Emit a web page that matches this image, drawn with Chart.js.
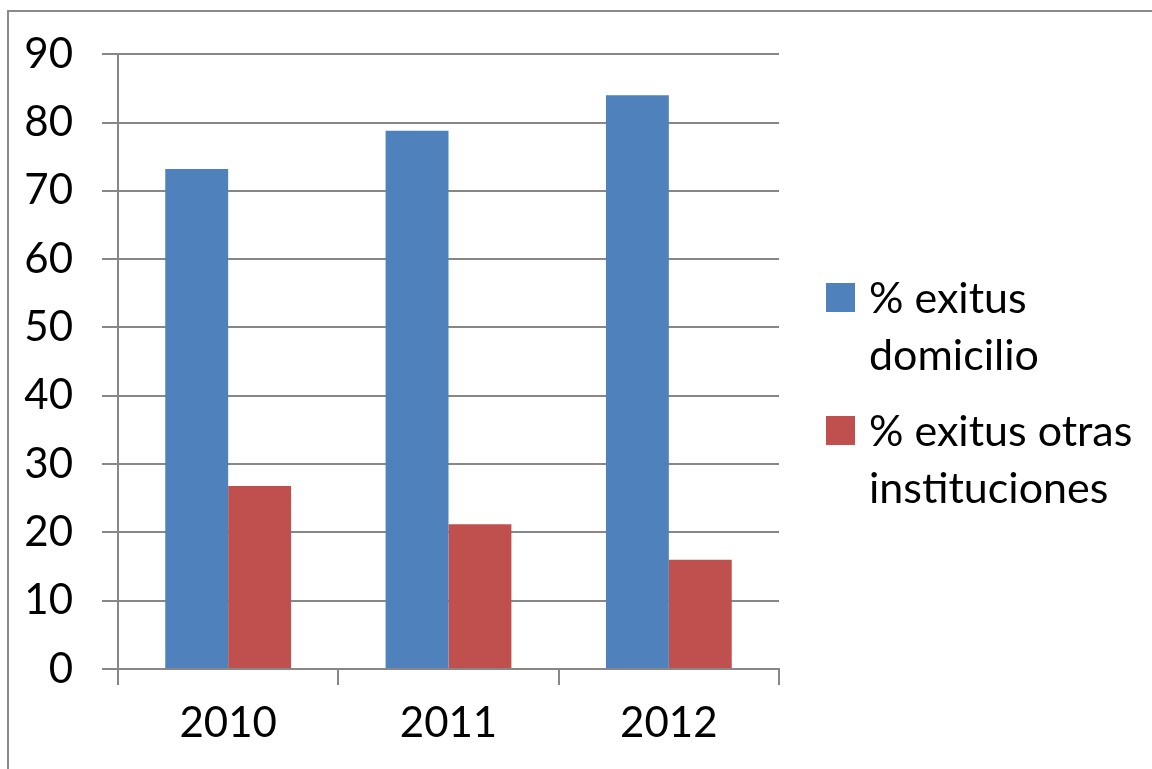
<!DOCTYPE html>
<html>
<head>
<meta charset="utf-8">
<script src="https://cdn.jsdelivr.net/npm/chart.js@4/dist/chart.umd.min.js"></script>
<style>
  html, body { margin: 0; padding: 0; background: #fff; }
  #wrap { width: 1152px; height: 769px; position: relative; }
</style>
</head>
<body>
<div id="wrap"><canvas id="chart" width="1152" height="769"></canvas></div>
<script>
const years = ["2010", "2011", "2012"];
const domicilio = [73.2, 78.8, 84.0];
const otrasInstituciones = [26.8, 21.2, 16.0];
const legendLines = [["% exitus", "domicilio"], ["% exitus otras", "instituciones"]];
const yTicks = [0, 10, 20, 30, 40, 50, 60, 70, 80, 90];

const FONT = "Lato, 'Open Sans', sans-serif";
const GRID = "#878787";

// gray frame along the top and left edge
const framePlugin = {
  id: "frame",
  beforeDraw(chart) {
    const c = chart.ctx;
    c.save();
    c.strokeStyle = "#8a8a8a";
    c.lineWidth = 2;
    c.beginPath();
    c.moveTo(8, chart.height);
    c.lineTo(8, 11);
    c.lineTo(chart.width, 11);
    c.stroke();
    c.restore();
  }
};

// legend on the right, labels wrapped on two lines
const sideLegend = {
  id: "sideLegend",
  afterDraw(chart) {
    const c = chart.ctx;
    c.save();
    c.font = "43px " + FONT;
    c.textBaseline = "alphabetic";
    const tops = [283, 416];
    chart.data.datasets.forEach((ds, i) => {
      const top = tops[i];
      c.fillStyle = ds.backgroundColor;
      c.fillRect(826, top, 29, 29);
      c.fillStyle = "#000";
      legendLines[i].forEach((line, j) => {
        c.fillText(line, 869, top + 30 + j * 57);
      });
    });
    c.restore();
  }
};

new Chart(document.getElementById("chart").getContext("2d"), {
  type: "bar",
  data: {
    labels: years,
    datasets: [
      {
        label: legendLines[0].join(" "),
        data: domicilio,
        backgroundColor: "#4F81BD"
      },
      {
        label: legendLines[1].join(" "),
        data: otrasInstituciones,
        backgroundColor: "#C0504D"
      }
    ]
  },
  options: {
    responsive: false,
    animation: false,
    categoryPercentage: 0.571,
    barPercentage: 1,
    layout: { padding: { left: 0, right: 373, top: 53, bottom: 0 } },
    plugins: {
      legend: { display: false },
      tooltip: { enabled: false }
    },
    scales: {
      x: {
        grid: {
          offset: true,
          drawOnChartArea: false,
          drawTicks: true,
          tickLength: 16,
          color: GRID,
          lineWidth: 2
        },
        border: { color: GRID, width: 2 },
        ticks: {
          color: "#000",
          font: { family: FONT, size: 42 },
          padding: 13
        },
        afterFit(scale) { scale.height = 100; }
      },
      y: {
        min: 0,
        max: 90,
        afterBuildTicks(scale) { scale.ticks = yTicks.map(v => ({ value: v })); },
        grid: {
          color: GRID,
          lineWidth: 2,
          drawTicks: true,
          tickLength: 16
        },
        border: { color: GRID, width: 2 },
        ticks: {
          color: "#000",
          font: { family: FONT, size: 42 },
          padding: 29
        },
        afterFit(scale) { scale.width = 118; }
      }
    }
  },
  plugins: [framePlugin, sideLegend]
});
</script>
</body>
</html>
